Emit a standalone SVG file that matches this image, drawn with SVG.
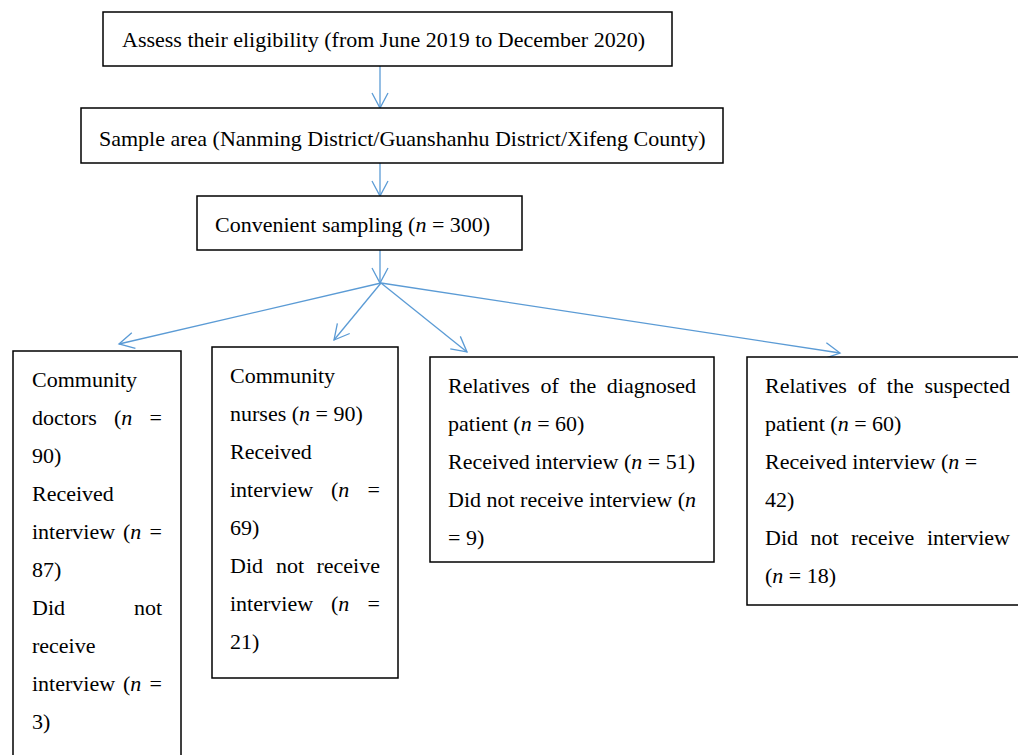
<svg xmlns="http://www.w3.org/2000/svg" width="1018" height="755" viewBox="0 0 1018 755">
<style>
.box{fill:#fff;stroke:#000;stroke-width:1.5}
.t{font-family:"Liberation Serif","Times New Roman",serif;font-size:22px;fill:#000}
.i{font-style:italic}
.e{text-anchor:end}
.c{fill:none;stroke:#5B9BD5;stroke-width:1.3}
</style>
<defs>
<marker id="ah" viewBox="-17 -10 20 20" refX="0" refY="0" markerWidth="20" markerHeight="20" markerUnits="userSpaceOnUse" orient="auto">
<path d="M-15,-8 L0,0 L-15,8" fill="none" stroke="#5B9BD5" stroke-width="1.3"/>
</marker>
</defs>
<rect width="1018" height="755" fill="#fff"/>
<g id="connectors">
<line class="c" x1="380" y1="66" x2="380" y2="108" marker-end="url(#ah)"/>
<line class="c" x1="380" y1="163" x2="380" y2="196" marker-end="url(#ah)"/>
<line class="c" x1="380" y1="250" x2="380" y2="283" marker-end="url(#ah)"/>
<line class="c" x1="381" y1="283" x2="119" y2="344" marker-end="url(#ah)"/>
<line class="c" x1="381" y1="283" x2="334" y2="340" marker-end="url(#ah)"/>
<line class="c" x1="381" y1="283" x2="467" y2="352" marker-end="url(#ah)"/>
<line class="c" x1="381" y1="283" x2="840" y2="353" marker-end="url(#ah)"/>
</g>
<g id="assess">
<rect class="box" x="103" y="12" width="569" height="54"/>
<text class="t" x="122" y="47">Assess their eligibility (from June 2019 to December 2020)</text>
</g>
<g id="sample">
<rect class="box" x="81" y="108" width="642" height="55"/>
<text class="t" x="99" y="146">Sample area (Nanming District/Guanshanhu District/Xifeng County)</text>
</g>
<g id="convenient">
<rect class="box" x="197" y="196" width="325" height="54"/>
<text class="t" x="215" y="232">Convenient sampling (<tspan class="i">n</tspan> = 300)</text>
</g>
<g id="doctors">
<rect class="box" x="13" y="351" width="168" height="420"/>
<text class="t" x="32" y="387">Community</text>
<text class="t" x="32" y="425">doctors</text>
<text class="t" x="114" y="425">(<tspan class="i">n</tspan></text>
<text class="t e" x="162" y="425">=</text>
<text class="t" x="32" y="463">90)</text>
<text class="t" x="32" y="501">Received</text>
<text class="t" x="32" y="539">interview</text>
<text class="t" x="123" y="539">(<tspan class="i">n</tspan></text>
<text class="t e" x="162" y="539">=</text>
<text class="t" x="32" y="577">87)</text>
<text class="t" x="32" y="615">Did</text>
<text class="t e" x="162" y="615">not</text>
<text class="t" x="32" y="653">receive</text>
<text class="t" x="32" y="691">interview</text>
<text class="t" x="123" y="691">(<tspan class="i">n</tspan></text>
<text class="t e" x="162" y="691">=</text>
<text class="t" x="32" y="729">3)</text>
</g>
<g id="nurses">
<rect class="box" x="212" y="347" width="186" height="331"/>
<text class="t" x="230" y="383">Community</text>
<text class="t" x="230" y="421">nurses (<tspan class="i">n</tspan> = 90)</text>
<text class="t" x="230" y="459">Received</text>
<text class="t" x="230" y="497">interview</text>
<text class="t" x="331" y="497">(<tspan class="i">n</tspan></text>
<text class="t e" x="380" y="497">=</text>
<text class="t" x="230" y="535">69)</text>
<text class="t" x="230" y="573">Did</text>
<text class="t" x="276" y="573">not</text>
<text class="t e" x="380" y="573">receive</text>
<text class="t" x="230" y="611">interview</text>
<text class="t" x="331" y="611">(<tspan class="i">n</tspan></text>
<text class="t e" x="380" y="611">=</text>
<text class="t" x="230" y="649">21)</text>
</g>
<g id="diagnosed">
<rect class="box" x="430" y="357" width="284" height="205"/>
<text class="t" x="448" y="393">Relatives</text>
<text class="t" x="540.5" y="393">of</text>
<text class="t" x="569.4" y="393">the</text>
<text class="t e" x="696" y="393">diagnosed</text>
<text class="t" x="448" y="431">patient (<tspan class="i">n</tspan> = 60)</text>
<text class="t" x="448" y="469">Received interview (<tspan class="i">n</tspan> = 51)</text>
<text class="t" x="448" y="507">Did not receive interview (<tspan class="i">n</tspan></text>
<text class="t" x="448" y="545">= 9)</text>
</g>
<g id="suspected">
<rect class="box" x="747" y="357" width="290" height="248"/>
<text class="t" x="765" y="393">Relatives</text>
<text class="t" x="857.7" y="393">of</text>
<text class="t" x="886.8" y="393">the</text>
<text class="t e" x="1010" y="393">suspected</text>
<text class="t" x="765" y="431">patient (<tspan class="i">n</tspan> = 60)</text>
<text class="t" x="765" y="469">Received interview (<tspan class="i">n</tspan> =</text>
<text class="t" x="765" y="507">42)</text>
<text class="t" x="765" y="545">Did</text>
<text class="t" x="810.4" y="545">not</text>
<text class="t" x="850.9" y="545">receive</text>
<text class="t e" x="1010" y="545">interview</text>
<text class="t" x="765" y="583">(<tspan class="i">n</tspan> = 18)</text>
</g>
</svg>
